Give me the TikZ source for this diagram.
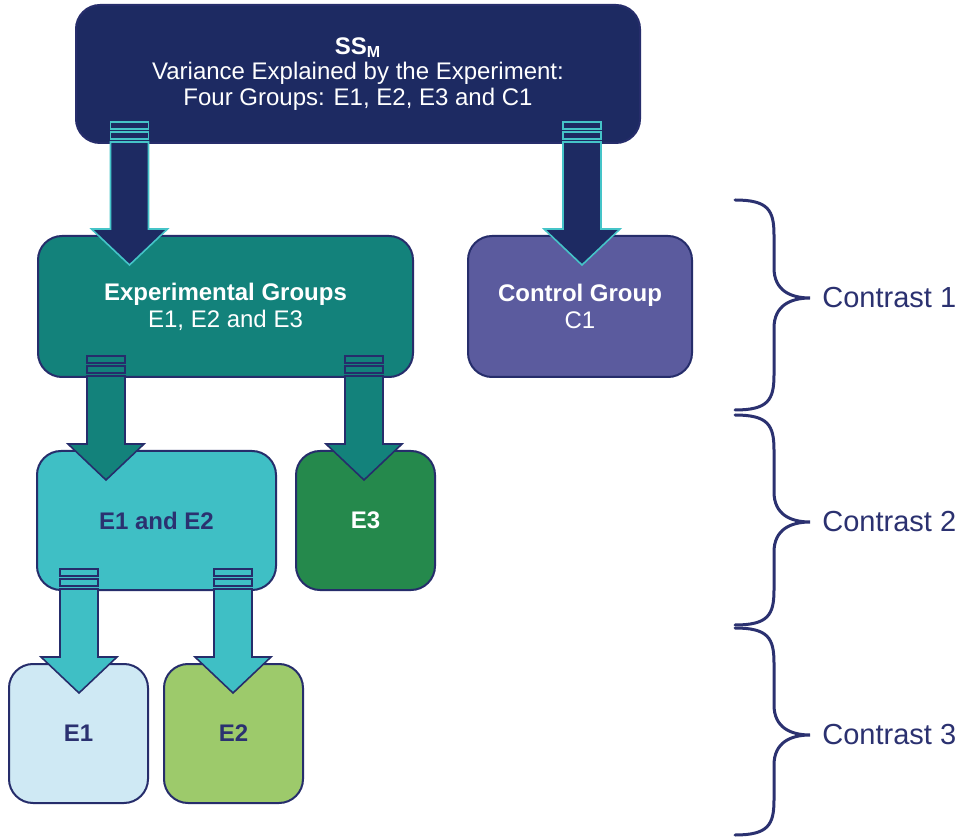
\documentclass[tikz,border=0pt]{standalone}
\usepackage{fontspec}
\setmainfont{Liberation Sans}
\usetikzlibrary{calc}

\definecolor{ssnavy}{HTML}{1D2A62}
\definecolor{bordernavy}{HTML}{262D6B}
\definecolor{labelnavy}{HTML}{2B3170}
\definecolor{egteal}{HTML}{13827B}
\definecolor{ctrlpurple}{HTML}{5B5B9E}
\definecolor{e12cyan}{HTML}{3FBFC5}
\definecolor{e3green}{HTML}{25894C}
\definecolor{e1blue}{HTML}{CFE9F4}
\definecolor{e2green}{HTML}{9DCA6B}
\definecolor{arrowcyan}{HTML}{45C4C8}

\tikzset{
  groupbox/.style={draw=bordernavy, line width=1pt, rounded corners=12pt,
    align=center, font=\fontsize{12}{13.5}\selectfont},
  navyarrow/.style={fill=ssnavy, draw=arrowcyan, line width=0.8pt},
  tealarrow/.style={fill=egteal, draw=bordernavy, line width=0.8pt},
  cyanarrow/.style={fill=e12cyan, draw=bordernavy, line width=0.8pt},
  contrast/.style={anchor=west, inner sep=0pt, text=labelnavy, font=\fontsize{14.5}{17}\selectfont},
  bracket/.style={draw=labelnavy, line width=1.5pt, line cap=round},
}

% block arrow: from node, to node, x position, style
\newcommand{\flowarrow}[4]{%
  \coordinate (fa-s) at (#3,0 |- #1.south);
  \coordinate (fa-c) at (#3,0 |- #2.north);
  \draw[#4] ([shift={(-19,-22)}]fa-s) rectangle ([shift={(19,-15)}]fa-s);
  \draw[#4] ([shift={(-19,-12)}]fa-s) rectangle ([shift={(19,-5)}]fa-s);
  \draw[#4] ([shift={(-19,-2)}]fa-s) -- ([shift={(-19,-6)}]fa-c)
    -- ([shift={(-38,-6)}]fa-c) -- ([shift={(0,30)}]fa-c)
    -- ([shift={(38,-6)}]fa-c) -- ([shift={(19,-6)}]fa-c)
    -- ([shift={(19,-2)}]fa-s) -- cycle;
}

\begin{document}
\begin{tikzpicture}[x=0.5pt,y=-0.5pt]
\path[fill=white,use as bounding box] (0,0) rectangle (964,839);

% boxes
\node[groupbox, fill=ssnavy, text=white, minimum width=282pt, minimum height=69pt,
  font=\fontsize{12}{12.75}\selectfont] (ssm) at (358,74)
  {\textbf{SS\textsubscript{M}}\\Variance Explained by the Experiment:\\Four Groups: E1, E2, E3 and C1};
\node[groupbox, fill=egteal, text=white, minimum width=187.5pt, minimum height=70.5pt]
  (expgroups) at (225.5,306.5) {\textbf{Experimental Groups}\\E1, E2 and E3};
\node[groupbox, fill=ctrlpurple, text=white, minimum width=112pt, minimum height=70.5pt]
  (ctrlgroup) at (580,306.5) {\textbf{Control Group}\\C1};
\node[groupbox, fill=e12cyan, text=labelnavy, minimum width=119.5pt, minimum height=69.5pt]
  (e12) at (156.5,520.5) {\textbf{E1 and E2}};
\node[groupbox, fill=e3green, text=white, minimum width=69.5pt, minimum height=69.5pt]
  (e3) at (365.5,520.5) {\textbf{E3}};
\node[groupbox, fill=e1blue, text=labelnavy, minimum width=69.5pt, minimum height=69.5pt]
  (e1) at (78.5,733.5) {\textbf{E1}};
\node[groupbox, fill=e2green, text=labelnavy, minimum width=69.5pt, minimum height=69.5pt]
  (e2) at (233.5,733.5) {\textbf{E2}};

% arrows
\flowarrow{ssm}{expgroups}{129.5}{navyarrow}
\flowarrow{ssm}{ctrlgroup}{582}{navyarrow}
\flowarrow{expgroups}{e12}{106}{tealarrow}
\flowarrow{expgroups}{e3}{364}{tealarrow}
\flowarrow{e12}{e1}{79}{cyanarrow}
\flowarrow{e12}{e2}{233}{cyanarrow}

% contrasts
\foreach \ya/\ym/\yb/\n in {200/298/410/1, 415/522/625/2, 628/735/835/3} {
  \node[contrast] (c\n) at (822,\ym) {Contrast \n};
  \draw[bracket] (735,\ya) .. controls (768,\ya) and (774,\ya+10) .. (774,\ya+35)
    -- (774,\ym-30) .. controls (774,\ym-8) and (790,\ym) .. ([xshift=-6pt]c\n.west)
    .. controls (790,\ym) and (774,\ym+8) .. (774,\ym+30)
    -- (774,\yb-35) .. controls (774,\yb-10) and (768,\yb) .. (735,\yb);
}
\end{tikzpicture}
\end{document}
